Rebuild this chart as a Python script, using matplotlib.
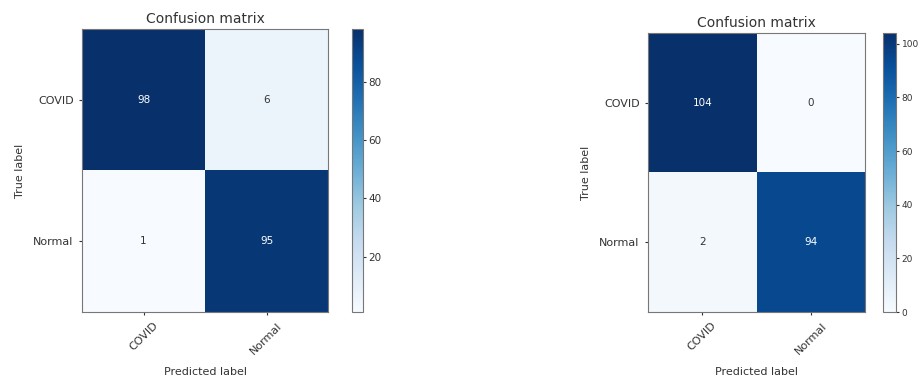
import numpy as np
import matplotlib
matplotlib.use("Agg")
import matplotlib.pyplot as plt

classes = ["COVID", "Normal"]
cm_left = np.array([[98, 6],
                    [1, 95]])
cm_right = np.array([[104, 0],
                     [2, 94]])
cbar_ticks_left = [20, 40, 60, 80]
cbar_ticks_right = [0, 20, 40, 60, 80, 100]

W, H = 922, 387
fig = plt.figure(figsize=(W / 100, H / 100), dpi=100)


def px_rect(x0, y0, x1, y1):
    return [x0 / W, (H - y1) / H, (x1 - x0) / W, (y1 - y0) / H]


def plot_cm(cm, ax_rect, cax_rect, ticks, cbar_size):
    ax = fig.add_axes(px_rect(*ax_rect))
    cax = fig.add_axes(px_rect(*cax_rect))
    im = ax.imshow(cm, interpolation="nearest", cmap=plt.cm.Blues, aspect="auto")
    ax.set_title("Confusion matrix", fontsize=10, color="#333333", pad=4)
    cb = fig.colorbar(im, cax=cax)
    cb.set_ticks(ticks)
    cb.ax.tick_params(labelsize=cbar_size, length=2.5, pad=1.5, colors="#333333")
    cb.outline.set_edgecolor("#777777")
    marks = np.arange(len(classes))
    ax.set_xticks(marks)
    ax.set_xticklabels(classes, rotation=45, fontsize=8, color="#333333")
    ax.set_yticks(marks)
    ax.set_yticklabels(classes, fontsize=8, color="#333333")
    ax.tick_params(length=2.5, colors="#333333")
    thresh = cm.max() / 2.0
    for i in range(cm.shape[0]):
        for j in range(cm.shape[1]):
            ax.text(j, i, format(cm[i, j], "d"), ha="center", va="center",
                    fontsize=7.5, color="white" if cm[i, j] > thresh else "#333333")
    ax.set_ylabel("True label", fontsize=8, color="#333333", labelpad=6)
    ax.set_xlabel("Predicted label", fontsize=8, color="#333333", labelpad=8)
    for s in ax.spines.values():
        s.set_edgecolor("#777777")
    return ax


plot_cm(cm_left, (82, 29, 328, 312), (352, 29, 363, 312), cbar_ticks_left, 7.5)
plot_cm(cm_right, (648, 33, 865, 312), (883, 33, 896, 312), cbar_ticks_right, 6.5)

fig.savefig("out.png", dpi=100)
